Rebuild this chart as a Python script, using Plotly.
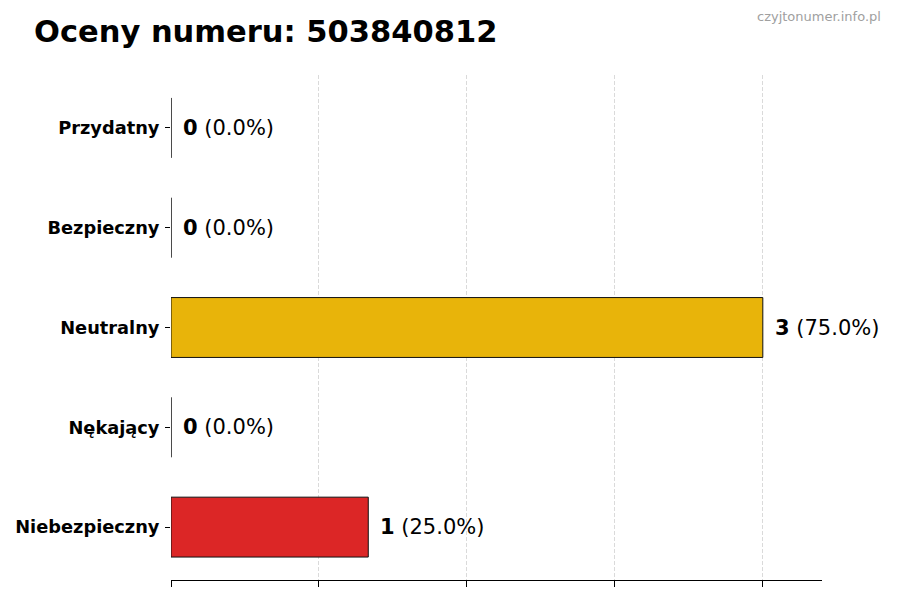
import plotly.graph_objects as go

# dane z wykresu (od góry do dołu)
categories = ["Przydatny", "Bezpieczny", "Neutralny", "Nękający", "Niebezpieczny"]
counts = [0, 0, 3, 0, 1]
colors = ["#2E9E44", "#2F6FD6", "#E8B40A", "#F07D1A", "#DC2626"]
grid_ticks = [0, 0.75, 1.5, 2.25, 3]
phone = "503840812"
total = sum(counts)

FONT = "DejaVu Sans"

fig = go.Figure()
fig.add_trace(go.Bar(
    y=categories,
    x=counts,
    orientation="h",
    width=0.6,
    marker=dict(color=colors, line=dict(color="#111111", width=1)),
    hoverinfo="skip",
    showlegend=False,
))

# etykiety z wartością i procentem
for cat, val in zip(categories, counts):
    pct = 100.0 * val / total if total else 0.0
    fig.add_annotation(
        x=val, y=cat, xref="x", yref="y",
        text=f"<b>{val}</b> ({pct:.1f}%)",
        showarrow=False, xanchor="left", yanchor="middle", xshift=10,
        font=dict(family=FONT, size=21, color="#000000"),
    )

# znak wodny (prawy górny róg)
fig.add_annotation(
    x=1.094, y=1.115, xref="paper", yref="paper",
    text="czyjtonumer.info.pl", showarrow=False,
    xanchor="right", yanchor="middle",
    font=dict(family=FONT, size=13, color="#A0A0A0"),
)

fig.update_layout(
    width=900, height=600,
    margin=dict(l=163, r=86, t=67, b=28),
    paper_bgcolor="white", plot_bgcolor="white",
    font=dict(family=FONT, color="#000000"),
    title=dict(
        text=f"<b>Oceny numeru: {phone}</b>",
        xref="container", yref="container",
        x=26 / 900, xanchor="left", y=1 - 23 / 600, yanchor="middle",
        font=dict(family=FONT, size=30.5, color="#000000"),
    ),
    bargap=0.4,
)
fig.update_xaxes(
    range=[0, 3.3], automargin=False,
    tickvals=grid_ticks, ticktext=[""] * len(grid_ticks),
    ticks="outside", ticklen=6, tickcolor="#000000", tickwidth=1,
    showgrid=True, gridcolor="#DADADA", griddash="4px,2px", gridwidth=1,
    showline=True, linecolor="#000000", linewidth=1.2,
    zeroline=False,
)
fig.update_yaxes(
    categoryorder="array", categoryarray=categories,
    range=[len(categories) - 1 + 0.53, -0.53],
    automargin=False,
    ticks="outside", ticklen=5, tickcolor="#000000", tickwidth=1,
    ticklabelstandoff=2,
    tickfont=dict(family=FONT, size=17.8, weight="bold", color="#000000"),
    showgrid=False, showline=False, zeroline=False,
)

fig.write_html("out.html")
